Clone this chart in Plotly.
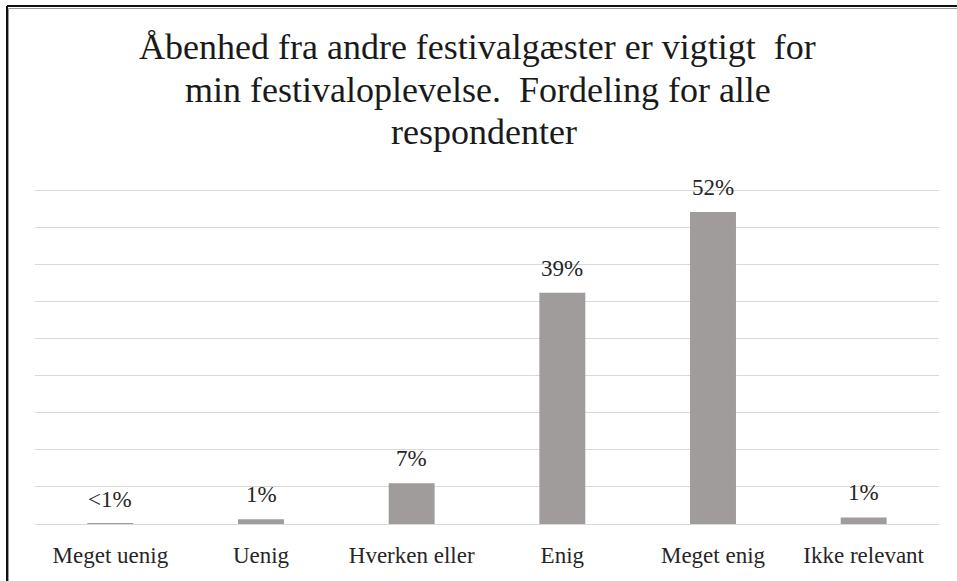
import plotly.graph_objects as go

CATEGORIES = ["Meget uenig", "Uenig", "Hverken eller", "Enig", "Meget enig", "Ikke relevant"]
VALUES = [0.05, 0.8, 6.8, 38.7, 52.2, 1.1]
LABELS = ["<1%", "1%", "7%", "39%", "52%", "1%"]
TITLE_LINES = [
    "Åbenhed fra andre festivalgæster er vigtigt  for",
    "min festivaloplevelse.  Fordeling for alle",
    "respondenter",
]

FONT = "Liberation Serif"
BAR_COLOR = "#a09c9b"
GRID_COLOR = "#d9d9d9"

W, H = 957, 581
M_L, M_R, M_T, M_B = 35, 18, 188, 57
PLOT_W = W - M_L - M_R
PLOT_H = H - M_T - M_B


def px_x(px):
    return (px - M_L) / PLOT_W


def px_y(py):
    return (H - M_B - py) / PLOT_H


fig = go.Figure()

fig.add_trace(
    go.Bar(
        x=CATEGORIES,
        y=VALUES,
        marker={"color": BAR_COLOR, "line": {"width": 0}},
        hoverinfo="skip",
    )
)

annotations = []
for cat, val, lab in zip(CATEGORIES, VALUES, LABELS):
    annotations.append(
        {
            "x": cat,
            "y": val,
            "text": lab,
            "showarrow": False,
            "yanchor": "bottom",
            "yshift": 10,
            "font": {"family": FONT, "size": 23, "color": "#262626"},
        }
    )

title_pos = [(477, 47), (478, 90), (484, 132)]
for line, (cx, mid) in zip(TITLE_LINES, title_pos):
    annotations.append(
        {
            "x": px_x(cx),
            "xref": "paper",
            "y": px_y(mid),
            "yref": "paper",
            "xanchor": "center",
            "yanchor": "middle",
            "text": line,
            "showarrow": False,
            "font": {"family": FONT, "size": 36, "color": "#1a1a1a"},
        }
    )

frame = [
    {"x0": px_x(7), "x1": 1.2, "y0": px_y(6), "y1": px_y(6), "color": "#111111", "width": 2},
    {"x0": px_x(7), "x1": px_x(7), "y0": px_y(6), "y1": -0.4, "color": "#111111", "width": 2},
    {"x0": px_x(8.5), "x1": 1.2, "y0": px_y(8.5), "y1": px_y(8.5), "color": "#9a9a9a", "width": 1},
    {"x0": px_x(8.5), "x1": px_x(8.5), "y0": px_y(8.5), "y1": -0.4, "color": "#9a9a9a", "width": 1},
]
shapes = [
    {
        "type": "line",
        "xref": "paper",
        "yref": "paper",
        "x0": f["x0"],
        "x1": f["x1"],
        "y0": f["y0"],
        "y1": f["y1"],
        "line": {"color": f["color"], "width": f["width"]},
    }
    for f in frame
]

fig.update_layout(
    width=W,
    height=H,
    margin={"l": M_L, "r": M_R, "t": M_T, "b": M_B},
    paper_bgcolor="white",
    plot_bgcolor="white",
    bargap=0.695,
    showlegend=False,
    annotations=annotations,
    shapes=shapes,
    font={"family": FONT, "color": "#262626"},
)
fig.update_xaxes(
    showline=True,
    linecolor=GRID_COLOR,
    linewidth=1,
    ticks="",
    tickfont={"family": FONT, "size": 23, "color": "#262626"},
    ticklabelstandoff=10,
    automargin=False,
    fixedrange=True,
)
fig.update_yaxes(
    range=[0, 56.2],
    dtick=6.205,
    showgrid=True,
    gridcolor=GRID_COLOR,
    gridwidth=1,
    showticklabels=False,
    zeroline=False,
    automargin=False,
    fixedrange=True,
)

# drop the default page margin so the figure sits at the window origin
fig.write_html(
    "out.html",
    config={"displayModeBar": False},
    post_script="document.body.style.margin='0';document.body.style.overflow='hidden';",
)
